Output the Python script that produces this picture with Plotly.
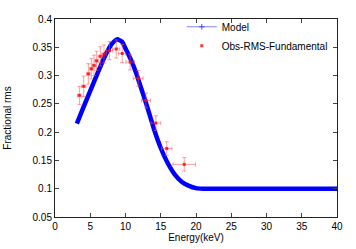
import plotly.graph_objects as go

# Observed data
obs_energy = [3.46, 4.07, 4.73, 5.16, 5.53, 5.9, 6.43, 6.95, 7.74, 8.69, 9.53, 10.66, 11.8, 12.9, 14.3, 15.85, 18.33]
obs_energy_err = [0.25, 0.3, 0.25, 0.25, 0.25, 0.25, 0.3, 0.3, 0.45, 0.5, 0.5, 0.6, 0.7, 0.65, 0.7, 0.75, 1.6]
obs_rms = [0.265, 0.281, 0.303, 0.312, 0.318, 0.326, 0.334, 0.338, 0.344, 0.347, 0.339, 0.324, 0.295, 0.256, 0.216, 0.171, 0.143]
obs_rms_err = [0.016, 0.018, 0.018, 0.018, 0.018, 0.017, 0.017, 0.016, 0.016, 0.016, 0.016, 0.014, 0.014, 0.013, 0.013, 0.012, 0.012]

# Model curve
model_energy = [3.1, 4, 5, 6, 7, 8, 8.8, 9.5, 10, 10.7, 11.5, 12, 13, 14, 15, 16, 17, 18, 19, 20, 21, 22, 25, 30, 35, 40]
model_rms = [0.215, 0.243, 0.273, 0.303, 0.332, 0.355, 0.364, 0.360, 0.348, 0.330, 0.305, 0.286, 0.248, 0.207,
             0.172, 0.145, 0.125, 0.112, 0.105, 0.101, 0.1, 0.1, 0.1, 0.1, 0.1, 0.1]

x_ticks = [0, 5, 10, 15, 20, 25, 30, 35, 40]
y_ticks = [0.05, 0.1, 0.15, 0.2, 0.25, 0.3, 0.35, 0.4]

FONT = "Liberation Sans, Arial, sans-serif"

fig = go.Figure()
fig.add_trace(go.Scatter(
    x=model_energy, y=model_rms, mode="lines", name="Model", showlegend=False, legendgroup="model",
    line=dict(color="#0000ff", width=4.5, shape="spline", smoothing=0.6),
))
# legend-only entry (thin line as in the original key)
fig.add_trace(go.Scatter(
    x=[None], y=[None], mode="lines+markers", name="Model", legendgroup="model",
    line=dict(color="rgba(80,80,255,0.7)", width=1),
    marker=dict(color="rgba(60,60,255,0.9)", size=4, symbol="cross-thin", line=dict(width=1, color="rgba(60,60,255,0.9)")),
))
fig.add_trace(go.Scatter(
    x=obs_energy, y=obs_rms, mode="markers", name="Obs-RMS-Fundamental",
    marker=dict(color="rgba(255,0,0,0.8)", size=3, symbol="square"),
    error_x=dict(type="data", array=obs_energy_err, color="rgba(255,80,80,0.55)", thickness=1, width=2),
    error_y=dict(type="data", array=obs_rms_err, color="rgba(255,80,80,0.55)", thickness=1, width=2),
))

axis_common = dict(
    showline=True, linecolor="#222", linewidth=1, mirror="ticks",
    ticks="inside", ticklen=4, tickcolor="#444", showgrid=False, zeroline=False,
    automargin=False,
    tickfont=dict(family=FONT, size=10, color="#000"),
)
fig.update_xaxes(range=[0, 40], tickvals=x_ticks, ticktext=[str(v) for v in x_ticks],
                 title=dict(text="Energy(keV)", font=dict(size=10, family=FONT), standoff=0),
                 **axis_common)
fig.update_yaxes(range=[0.05, 0.4], tickvals=y_ticks, ticktext=[f"{v:g}" for v in y_ticks],
                 title=dict(text="Fractional rms", font=dict(size=10, family=FONT), standoff=19),
                 **axis_common)

fig.update_layout(
    width=356, height=249,
    margin=dict(l=55, r=19, t=12, b=32),
    paper_bgcolor="white", plot_bgcolor="white",
    font=dict(family=FONT, size=10, color="#000"),
    legend=dict(x=0.985, y=1.034, xanchor="right", yanchor="top", bgcolor="rgba(0,0,0,0)",
                font=dict(size=10), tracegroupgap=0, itemwidth=30),
    showlegend=True,
)
fig.write_html("out.html", config={"displayModeBar": False},
               post_script="document.body.style.margin='0';document.body.style.overflow='hidden';")
